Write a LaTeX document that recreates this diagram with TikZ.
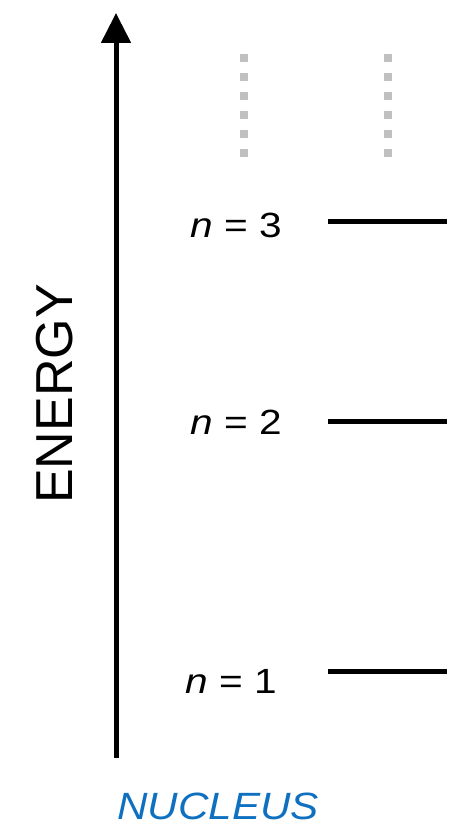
\documentclass[tikz,border=0pt]{standalone}
\usepackage{fontspec}
\setmainfont{Liberation Sans}
\usetikzlibrary{arrows.meta}
\definecolor{dotgray}{RGB}{192,192,192}
\definecolor{nucblue}{RGB}{16,112,192}
\tikzset{
  level/.style={line width=5pt},
  lbl/.style={inner sep=0pt, xscale=1.16, font=\fontsize{35}{40}\selectfont},
  dots/.style={dotgray, line width=8pt, dash pattern=on 8pt off 11pt}
}
\begin{document}
\begin{tikzpicture}[x=1pt,y=-1pt]
\useasboundingbox (0,0) rectangle (451,826);
% axis
\coordinate (abot) at (116,758);
\coordinate (atop) at (116,13);
\draw[line width=5pt, -{Triangle[width=29pt,length=30pt]}] (abot) -- (atop);
\node[inner sep=0pt, rotate=90, font=\fontsize{52}{56}\selectfont] (energy) at (55,394) {ENERGY};
\node[inner sep=0pt, anchor=base, xscale=1.11, text=nucblue, font=\fontsize{38}{42}\selectfont\itshape] (nucleus) at (218,819) {NUCLEUS};
% levels
\coordinate (l3a) at (328,222); \coordinate (l3b) at (447,222);
\coordinate (l2a) at (328,421); \coordinate (l2b) at (447,421);
\coordinate (l1a) at (328,671); \coordinate (l1b) at (447,671);
\draw[level] (l3a) -- (l3b);
\draw[level] (l2a) -- (l2b);
\draw[level] (l1a) -- (l1b);
\node[lbl, anchor=base west] (n3) at (190,237) {\textit{n} = 3};
\node[lbl, anchor=base west] (n2) at (190,434) {\textit{n} = 2};
\node[lbl, anchor=base west] (n1) at (185,693) {\textit{n} = 1};
% dotted continuation
\coordinate (d1a) at (244,54); \coordinate (d1b) at (244,160);
\coordinate (d2a) at (388,54); \coordinate (d2b) at (388,160);
\draw[dots] (d1a) -- (d1b);
\draw[dots] (d2a) -- (d2b);
\end{tikzpicture}
\end{document}
